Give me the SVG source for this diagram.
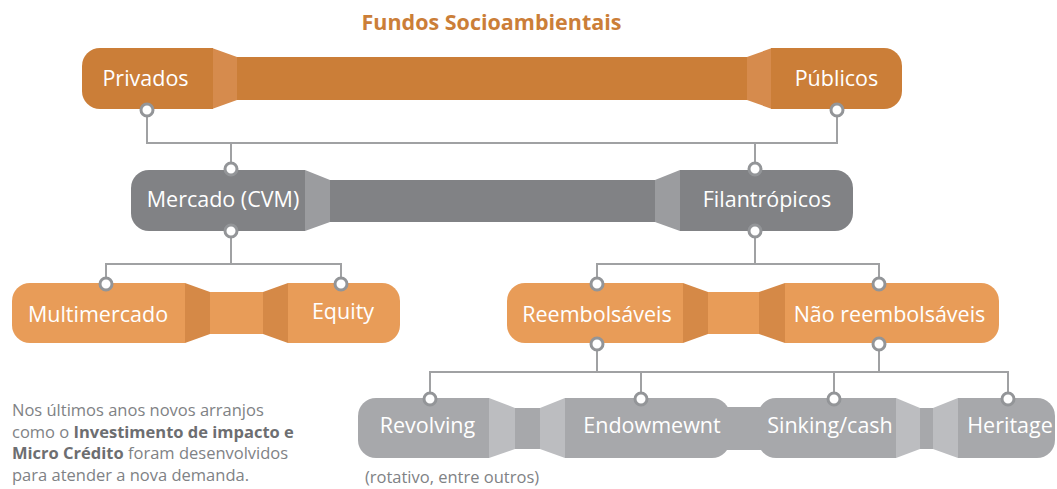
<svg xmlns="http://www.w3.org/2000/svg" width="1057" height="489" viewBox="0 0 1057 489">
<defs>
<style>
.lbl{font-family:"Open Sans","Liberation Sans",sans-serif;font-size:21.5px;fill:#ffffff;text-anchor:middle}
.o1{fill:#CB7E38}.o1t{fill:#D68B4D}
.g1{fill:#818285}.g1t{fill:#9B9C9F}
.o2{fill:#E89C58}.o2t{fill:#D58947}
.g2{fill:#A7A8AB}.g2t{fill:#BCBDC0}
.ln{fill:none;stroke:#A0A1A3;stroke-width:2}
.dot{fill:#ffffff;stroke:#939598;stroke-width:3}
.para{font-family:"Open Sans","Liberation Sans",sans-serif;font-size:16.5px;fill:#808285}
.para .b{font-weight:bold;fill:#6D6E71}
</style>
</defs>
<rect width="1057" height="489" fill="#ffffff"/>
<text x="491.5" y="30" font-family="Open Sans, Liberation Sans, sans-serif" font-size="21.5" font-weight="bold" fill="#CB7E38" text-anchor="middle">Fundos Socioambientais</text>

<g id="connectors">
<path class="ln" d="M147 110V143H837V110M231 143V168M755 143V168"/>
<path class="ln" d="M231 231V264M106 284V264H341V284"/>
<path class="ln" d="M755 231V264M597 284V264H879V284"/>
<path class="ln" d="M597 344V372M879 344V372M430 399V372H1008V399M641 372V399M834 372V399"/>
</g>

<g id="bars">
<rect class="o1" x="236" y="57" width="511" height="43"/>
<polygon class="o1t" points="212,48 237,57 237,100 212,109"/>
<polygon class="o1t" points="747,57 772,48 772,109 747,100"/>
<rect class="g1" x="329" y="180" width="327" height="42"/>
<polygon class="g1t" points="305,170 330,180 330,222 305,231"/>
<polygon class="g1t" points="655,180 680,170 680,231 655,222"/>
<rect class="o2" x="209" y="292" width="55" height="42"/>
<polygon class="o2t" points="185,283 210,292 210,334 185,343"/>
<polygon class="o2t" points="263,292 288,283 288,343 263,334"/>
<rect class="o2" x="707" y="292" width="53" height="42"/>
<polygon class="o2t" points="683,283 708,292 708,334 683,343"/>
<polygon class="o2t" points="759,292 785,283 785,343 759,334"/>
<rect class="g2" x="514" y="408" width="27" height="41"/>
<polygon class="g2t" points="489,398 515,408 515,449 489,458"/>
<polygon class="g2t" points="540,408 565,398 565,458 540,449"/>
<rect class="g2" x="720" y="407" width="48" height="43"/>
<rect class="g2" x="919" y="408" width="15" height="41"/>
<polygon class="g2t" points="896,398 920,408 920,449 896,458"/>
<polygon class="g2t" points="933,408 958,398 958,458 933,449"/>
</g>

<g id="n-privados">
<path class="o1" d="M100 48H213V109H100A18 18 0 0 1 82 91V66A18 18 0 0 1 100 48Z"/>
<text class="lbl" x="145.5" y="86">Privados</text>
</g>
<g id="n-publicos">
<path class="o1" d="M771 48H884A18 18 0 0 1 902 66V91A18 18 0 0 1 884 109H771Z"/>
<text class="lbl" x="836.5" y="86">Públicos</text>
</g>
<g id="n-mercado">
<path class="g1" d="M149 170H305V231H149A18 18 0 0 1 131 213V188A18 18 0 0 1 149 170Z"/>
<text class="lbl" x="223" y="207">Mercado (CVM)</text>
</g>
<g id="n-filantropicos">
<path class="g1" d="M680 170H835A18 18 0 0 1 853 188V213A18 18 0 0 1 835 231H680Z"/>
<text class="lbl" x="767" y="207">Filantrópicos</text>
</g>
<g id="n-multimercado">
<path class="o2" d="M30 283H185V343H30A18 18 0 0 1 12 325V301A18 18 0 0 1 30 283Z"/>
<text class="lbl" x="98" y="322">Multimercado</text>
</g>
<g id="n-equity">
<path class="o2" d="M288 283H382A18 18 0 0 1 400 301V325A18 18 0 0 1 382 343H288Z"/>
<text class="lbl" x="343" y="319">Equity</text>
</g>
<g id="n-reembolsaveis">
<path class="o2" d="M525 283H683V343H525A18 18 0 0 1 507 325V301A18 18 0 0 1 525 283Z"/>
<text class="lbl" x="597" y="322">Reembolsáveis</text>
</g>
<g id="n-nao-reembolsaveis">
<path class="o2" d="M785 283H981A18 18 0 0 1 999 301V325A18 18 0 0 1 981 343H785Z"/>
<text class="lbl" x="889.5" y="322">Não reembolsáveis</text>
</g>
<g id="n-revolving">
<path class="g2" d="M376 398H489V458H376A18 18 0 0 1 358 440V416A18 18 0 0 1 376 398Z"/>
<text class="lbl" x="427.5" y="433">Revolving</text>
</g>
<g id="n-endowmewnt">
<path class="g2" d="M565 398H712A18 18 0 0 1 730 416V440A18 18 0 0 1 712 458H565Z"/>
<text class="lbl" x="652" y="433">Endowmewnt</text>
</g>
<g id="n-sinking">
<path class="g2" d="M776 398H896V458H776A18 18 0 0 1 758 440V416A18 18 0 0 1 776 398Z"/>
<text class="lbl" x="830" y="433">Sinking/cash</text>
</g>
<g id="n-heritage">
<path class="g2" d="M958 398H1037A18 18 0 0 1 1055 416V440A18 18 0 0 1 1037 458H958Z"/>
<text class="lbl" x="1010" y="433">Heritage</text>
</g>

<g id="ports">
<circle class="dot" cx="147" cy="110" r="6"/>
<circle class="dot" cx="837" cy="110" r="6"/>
<circle class="dot" cx="231" cy="169" r="6"/>
<circle class="dot" cx="755" cy="169" r="6"/>
<circle class="dot" cx="231" cy="231" r="6"/>
<circle class="dot" cx="755" cy="231" r="6"/>
<circle class="dot" cx="106" cy="284" r="6"/>
<circle class="dot" cx="341" cy="284" r="6"/>
<circle class="dot" cx="597" cy="284" r="6"/>
<circle class="dot" cx="879" cy="284" r="6"/>
<circle class="dot" cx="597" cy="344" r="6"/>
<circle class="dot" cx="879" cy="344" r="6"/>
<circle class="dot" cx="430" cy="399" r="6"/>
<circle class="dot" cx="641" cy="399" r="6"/>
<circle class="dot" cx="834" cy="399" r="6"/>
<circle class="dot" cx="1008" cy="399" r="6"/>
</g>

<g id="note" class="para">
<text x="12" y="416">Nos últimos anos novos arranjos</text>
<text x="12" y="438">como o <tspan class="b">Investimento de impacto e</tspan></text>
<text x="12" y="459"><tspan class="b">Micro Crédito</tspan> foram desenvolvidos</text>
<text x="12" y="481">para atender a nova demanda.</text>
</g>
<text class="para" x="452" y="483" text-anchor="middle">(rotativo, entre outros)</text>
</svg>
